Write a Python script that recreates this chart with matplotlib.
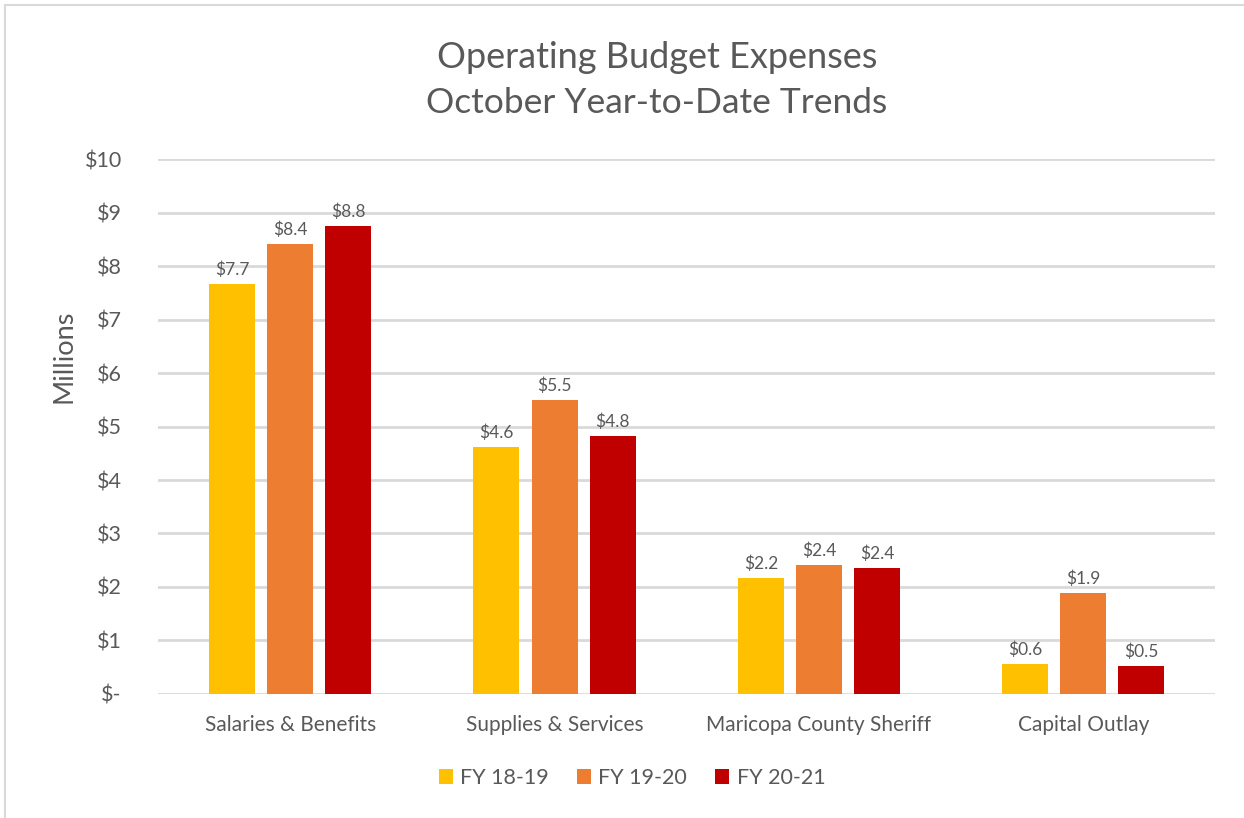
import numpy as np
import matplotlib.pyplot as plt
from matplotlib.patches import Rectangle

plt.rcParams['font.family'] = ['Lato', 'DejaVu Sans']

categories = ["Salaries & Benefits", "Supplies & Services", "Maricopa County Sheriff", "Capital Outlay"]
series = ["FY 18-19", "FY 19-20", "FY 20-21"]
fy1819 = [7.66, 4.62, 2.17, 0.56]
fy1920 = [8.41, 5.50, 2.42, 1.89]
fy2021 = [8.75, 4.83, 2.35, 0.52]
colors = ["#FFC000", "#ED7D31", "#C00000"]
yticks = [0, 1, 2, 3, 4, 5, 6, 7, 8, 9, 10]

txt = "#595959"

fig = plt.figure(figsize=(12.44, 8.18), dpi=100)
ax = fig.add_axes([0.127, 0.1516, 0.85, 0.654])

# light frame like the screenshot
fig.patches.append(Rectangle((0.004, -0.01), 1.2, 1.004, transform=fig.transFigure,
                             fill=False, edgecolor="#D9D9D9", linewidth=1.5))

x = np.arange(len(categories))
w = 0.174
step = 0.2195
for i, (vals, c, name) in enumerate(zip([fy1819, fy1920, fy2021], colors, series)):
    pos = x + (i - 1) * step
    bars = ax.bar(pos, vals, width=w, color=c, label=name, zorder=3)
    for b, v in zip(bars, vals):
        ax.text(b.get_x() + b.get_width() / 2, v + 0.11, f"${v:.1f}",
                ha="center", va="bottom", fontsize=12.5, color=txt)

ax.set_xlim(-0.5, len(categories) - 0.5)
ax.set_ylim(0, 10)
ax.set_yticks(yticks)
ax.set_yticklabels(["$-" if t == 0 else f"${t}" for t in yticks], fontsize=15.5, color=txt)
ax.set_xticks(x)
ax.set_xticklabels(categories, fontsize=15, color=txt)
ax.tick_params(length=0)
ax.tick_params(axis="x", pad=15)
ax.tick_params(axis="y", pad=26)
ax.grid(axis="y", color="#D9D9D9", linewidth=2, zorder=0)
for s in ax.spines.values():
    s.set_visible(False)

ax.set_ylabel("Millions", fontsize=19.5, color=txt)
ax.yaxis.set_label_coords(-0.077, 0.632)

fig.text(0.528, 0.93, "Operating Budget Expenses", ha="center", va="center",
         fontsize=26, color=txt)
fig.text(0.528, 0.874, "October Year-to-Date Trends", ha="center", va="center",
         fontsize=25.5, color=txt)

leg = fig.legend(loc="center", bbox_to_anchor=(0.508, 0.049), ncol=3, frameon=False,
                 fontsize=15.5, handlelength=0.65, handleheight=0.65, handletextpad=0.35,
                 columnspacing=1.3)
for t in leg.get_texts():
    t.set_color(txt)

fig.savefig("out.png", dpi=100)
